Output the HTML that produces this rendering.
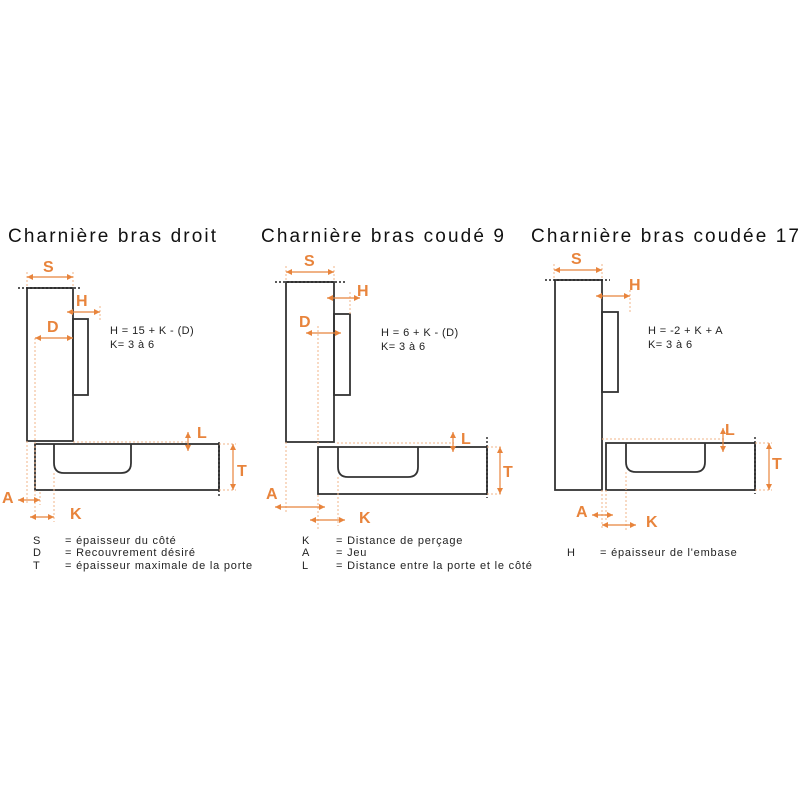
<!DOCTYPE html>
<html><head><meta charset="utf-8"><style>html,body{margin:0;padding:0;background:#fff}svg{display:block}</style></head><body>
<svg width="800" height="800" viewBox="0 0 800 800" xmlns="http://www.w3.org/2000/svg" font-family="Liberation Sans, Arial, sans-serif">
<defs>
<marker id="a" viewBox="0 0 6 6" refX="6" refY="3" markerWidth="5" markerHeight="5" orient="auto-start-reverse"><path d="M0,0L6,3L0,6z" fill="#e8843c"/></marker>
</defs>
<g font-size="19" fill="#111">
<text x="8" y="242" textLength="208">Charnière bras droit</text>
<text x="261" y="242" textLength="243">Charnière bras coudé 9</text>
<text x="531" y="242" textLength="268">Charnière bras coudée 17</text>
</g>
<g fill="none" stroke="#333" stroke-width="1.8">
<rect x="27" y="288" width="46" height="153"/>
<rect x="73" y="319" width="15" height="76"/>
<rect x="35" y="444" width="184" height="46"/>
<path d="M54,444V463Q54,473 64,473H121Q131,473 131,463V444"/>
<rect x="286" y="282" width="48" height="160"/>
<rect x="334" y="314" width="16" height="81"/>
<rect x="318" y="447" width="169" height="47"/>
<path d="M338,447V467Q338,477 348,477H408Q418,477 418,467V447"/>
<rect x="555" y="280" width="47" height="210"/>
<rect x="602" y="312" width="16" height="80"/>
<rect x="606" y="443" width="149" height="47"/>
<path d="M626,443V462Q626,472 636,472H695Q705,472 705,462V443"/>
</g>
<g stroke="#222" stroke-width="1.4" stroke-dasharray="2,2" fill="none">
<path d="M18,288H80M219,442V498M275,282H345M487,437V498M545,280H610M755,437V494"/>
</g>
<g stroke="#f0b48a" stroke-width="1" stroke-dasharray="2,2" fill="none">
<path d="M27,272V288M73,272V288M100,306V320M35,338V518M73,442H188M219,444H236M219,490H236M27,441V505M54,473V522M40,492V505"/>
<path d="M286,266V282M334,266V282M350,292V314M318,326V446M318,495V530M337,443H454M487,447H503M487,494H503M286,442V512M338,477V526"/>
<path d="M554,264V280M602,264V280M630,290V312M602,439H724M755,443H772M755,490H772M602,490V530M606,490V520M626,472V530"/>
</g>
<g stroke="#e8843c" stroke-width="1.2" fill="none" marker-start="url(#a)" marker-end="url(#a)">
<path d="M27,277H73"/><path d="M67,312H100"/><path d="M35,338H73"/><path d="M188,432V451"/><path d="M233,444V490"/><path d="M18,500H40"/><path d="M30,517H54"/>
<path d="M286,272H334"/><path d="M327,298H360"/><path d="M306,333H341"/><path d="M453,432V452"/><path d="M500,447V494"/><path d="M275,507H325"/><path d="M310,520H345"/>
<path d="M554,270H602"/><path d="M596,296H630"/><path d="M723,428V452"/><path d="M769,443V490"/><path d="M592,515H613"/><path d="M602,525H636"/>
</g>
<g fill="#e8843c" font-weight="bold" font-size="16">
<text x="43" y="272">S</text><text x="76" y="306">H</text><text x="47" y="332">D</text><text x="197" y="438">L</text><text x="237" y="476">T</text><text x="2" y="503">A</text><text x="70" y="519">K</text>
<text x="304" y="266">S</text><text x="357" y="296">H</text><text x="299" y="327">D</text><text x="461" y="444">L</text><text x="503" y="477">T</text><text x="266" y="499">A</text><text x="359" y="523">K</text>
<text x="571" y="264">S</text><text x="629" y="290">H</text><text x="725" y="435">L</text><text x="772" y="469">T</text><text x="576" y="517">A</text><text x="646" y="527">K</text>
</g>
<g font-size="11" fill="#222" letter-spacing="0.4">
<text x="110" y="334">H = 15 + K - (D)</text><text x="110" y="348">K= 3 à 6</text>
<text x="381" y="336">H = 6 + K - (D)</text><text x="381" y="350">K= 3 à 6</text>
<text x="648" y="334">H = -2 + K + A</text><text x="648" y="348">K= 3 à 6</text>
</g>
<g font-size="11" fill="#222" letter-spacing="0.8">
<text x="33" y="544">S</text><text x="65" y="544">= épaisseur du côté</text>
<text x="33" y="556">D</text><text x="65" y="556">= Recouvrement désiré</text>
<text x="33" y="569">T</text><text x="65" y="569">= épaisseur maximale de la porte</text>
<text x="302" y="544">K</text><text x="336" y="544">= Distance de perçage</text>
<text x="302" y="556">A</text><text x="336" y="556">= Jeu</text>
<text x="302" y="569">L</text><text x="336" y="569">= Distance entre la porte et le côté</text>
<text x="567" y="556">H</text><text x="600" y="556">= épaisseur de l'embase</text>
</g>
</svg>
</body></html>
